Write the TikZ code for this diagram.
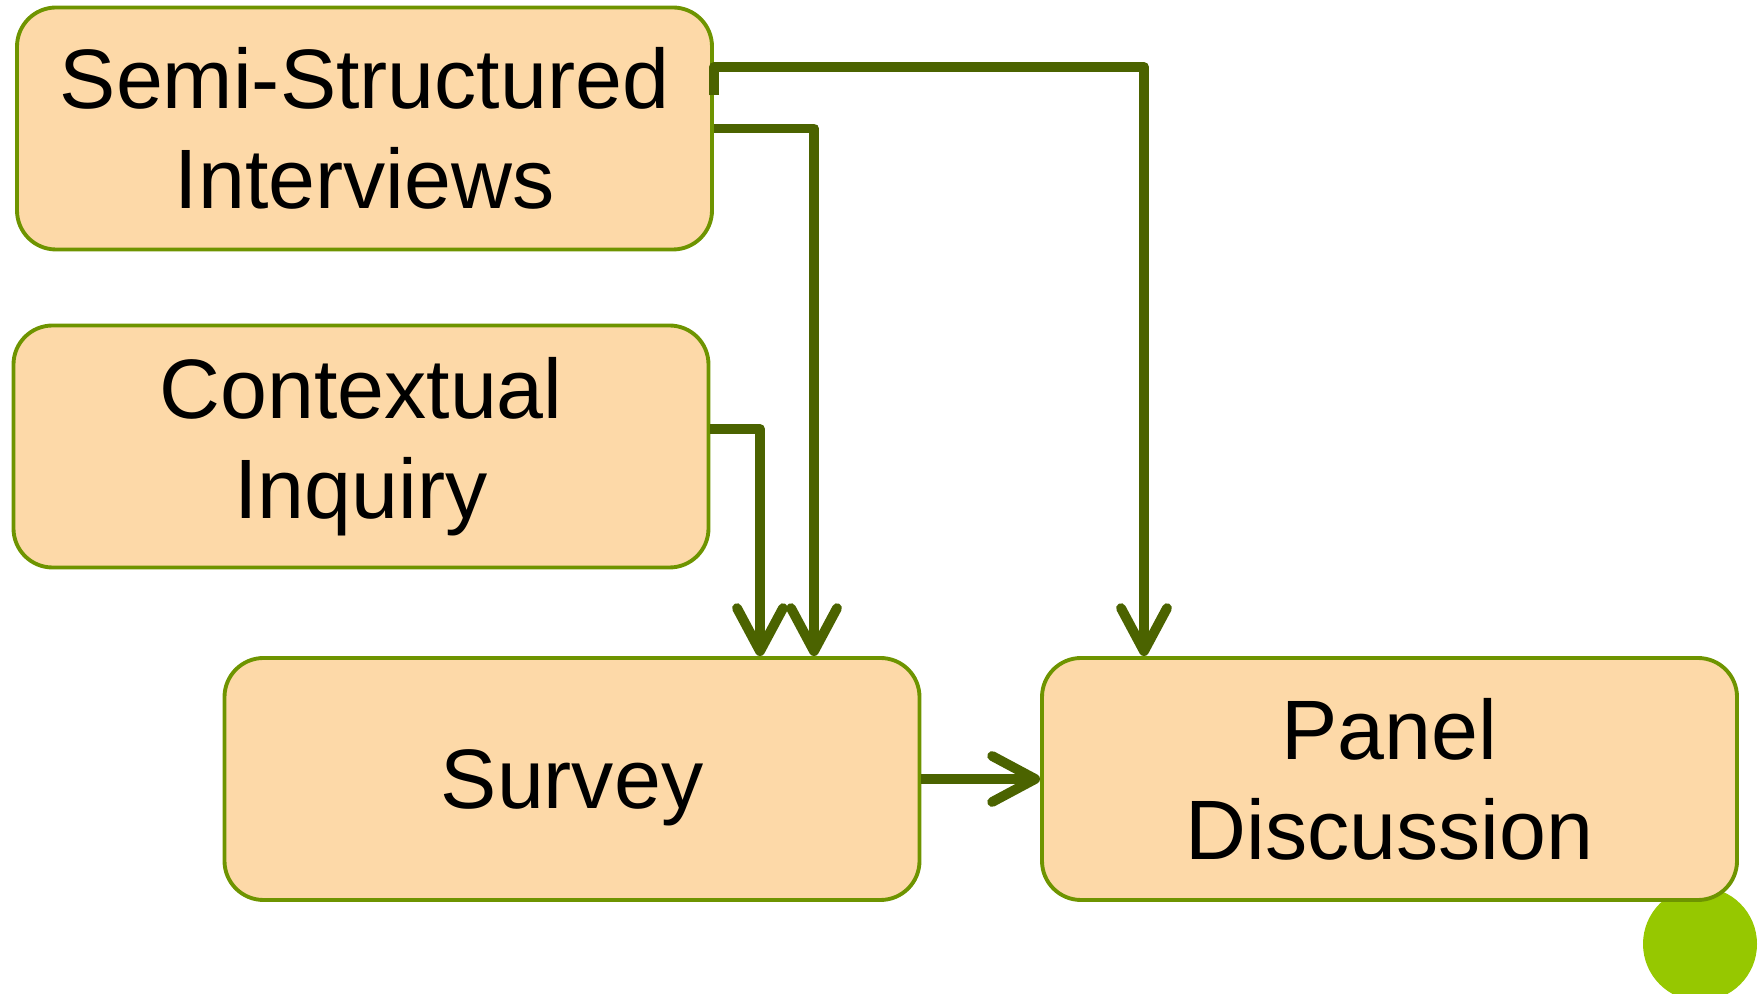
\documentclass[tikz,border=0pt]{standalone}
\usepackage{fontspec}
\setmainfont{Liberation Sans}
\usepackage{tikz}
\usetikzlibrary{arrows.meta,positioning}

\definecolor{peach}{RGB}{253,217,168}
\definecolor{boxline}{RGB}{110,148,0}
\definecolor{linkgreen}{RGB}{75,99,0}
\definecolor{dotgreen}{RGB}{150,200,0}

\begin{document}
\begin{tikzpicture}[
    method/.style={rectangle, rounded corners=0.39cm, draw=boxline, line width=1.1pt, fill=peach,
        minimum width=6.95cm, minimum height=2.42cm, align=center,
        font=\fontsize{24}{28.5}\selectfont},
    link/.style={draw=linkgreen, line width=2.8pt, line join=round,
        -{Straight Barb[length=4.3mm, width=4.6mm, round]}}
]
    \useasboundingbox (0,0) rectangle (17.58,-9.94);

    % Corner dot
    \fill[dotgreen] (17.0,-9.44) circle (0.57);

    % Data collection
    \node (semi) [method] at (3.645,-1.285) {Semi-Structured\\Interviews};
    \node (ctx) [method] at (3.61,-4.465) {Contextual\\Inquiry};

    % Follow-up
    \node (survey) [method, text height=22pt, text depth=5pt] at (5.72,-7.79) {Survey};
    \node (panel) [method] at (13.895,-7.79) {Panel\\Discussion};

    % Connections
    \draw[link] ([yshift=3.3mm]semi.east) -- ++(0,2.85mm) -| ([xshift=-24.55mm]panel.north);
    \draw[link] (semi.east) -| ([xshift=24.2mm]survey.north);
    \draw[link] ([yshift=1.75mm]ctx.east) -| ([xshift=18.8mm]survey.north);
    \draw[link] (survey.east) -- (panel.west);
\end{tikzpicture}
\end{document}
